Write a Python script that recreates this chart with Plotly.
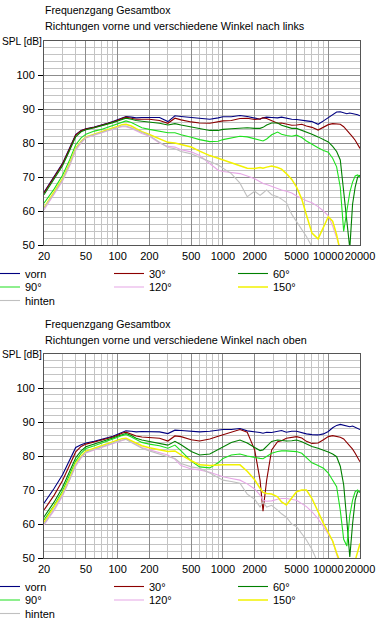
import math
import plotly.graph_objects as go

# ---------------- data ----------------
FREQ = [20, 25, 30, 35, 40, 45, 50,
        60, 70, 80, 90, 100,
        110, 120, 135, 150, 170, 200,
        250, 300, 350, 400, 500,
        600, 750, 900, 1000, 1200,
        1450, 1700, 2000, 2250, 2400,
        2600, 2900, 3300, 3600, 4000,
        4500, 5000, 5600, 6200, 7000,
        8000, 9000, 10000, 11000, 12000,
        13000, 14000, 15000, 16000, 17000,
        18000, 19000, 20000]

SERIES_NAMES = ["vorn", "30°", "60°", "90°", "120°", "150°", "hinten"]
SERIES_COLORS = ["#000080", "#8c0000", "#008000", "#1ee01e", "#e6a6e6", "#f2f200", "#c0c0c0"]

# --- chart 1: nach links ---
vorn_links = [65.5, 70.0, 74.0, 78.5, 82.5, 83.7, 84.2,
              84.7, 85.2, 85.8, 86.3, 86.8,
              87.4, 87.8, 87.6, 87.4, 87.5, 87.5,
              87.5, 86.3, 88.0, 87.8, 87.5,
              87.2, 87.0, 87.4, 87.7, 87.7,
              88.1, 87.8, 87.3, 87.0, 87.4,
              87.6, 87.5, 87.4, 87.6, 87.3,
              87.0, 86.9, 86.8, 86.5, 86.3,
              85.5, 86.5, 87.4, 88.4, 89.1,
              89.2, 89.0, 88.6, 88.8, 88.7,
              88.5, 88.3, 88.0]
w30_links = [65.3, 69.8, 73.8, 78.3, 82.3, 83.6, 84.1,
             84.6, 85.1, 85.7, 86.2, 86.7,
             87.3, 87.6, 87.3, 87.0, 87.0, 87.0,
             86.6, 85.8, 87.3, 86.8, 86.2,
             85.9, 85.8, 86.2, 86.5, 86.6,
             87.2, 87.3, 86.9, 87.1, 87.4,
             87.2, 86.6, 85.8, 85.9, 85.5,
             85.2, 85.3, 85.5, 85.0, 84.6,
             83.8, 84.6, 85.4, 85.7, 85.6,
             85.5, 84.8, 83.8, 82.8, 81.8,
             80.8, 79.6, 78.4]
w60_links = [64.8, 69.3, 73.3, 77.8, 81.8, 83.3, 83.9,
             84.5, 85.0, 85.5, 86.0, 86.5,
             87.0, 87.3, 87.0, 86.6, 86.4, 86.2,
             85.8, 85.3, 85.7, 85.3, 84.8,
             84.2, 83.7, 83.7, 84.0, 84.2,
             84.4, 84.5, 84.3, 84.3, 84.6,
             85.3, 85.9, 85.9, 85.2, 84.7,
             84.3, 84.3, 83.8, 83.2, 82.6,
             81.8, 81.0, 80.3, 79.0, 77.5,
             75.0, 65.5, 57.0, 49.0, 62.0,
             67.0, 70.0, 70.5]
w90_links = [62.3, 66.5, 70.5, 75.0, 79.5, 81.5, 82.6,
             83.5, 84.0, 84.6, 85.2, 85.7,
             86.2, 86.5, 86.0, 85.2, 84.5, 84.0,
             83.5, 83.0, 83.0, 82.4, 81.7,
             81.0, 80.4, 80.5, 81.0, 81.5,
             82.0, 81.8, 81.2, 80.8, 80.6,
             81.2, 82.4, 83.2, 82.6, 82.2,
             82.0, 82.3, 81.6, 80.6, 79.6,
             78.6, 77.8, 77.3, 75.5, 73.0,
             67.0, 54.0, 60.0, 65.5, 68.5,
             70.3, 70.6, 70.0]
w120_links = [60.3, 64.8, 68.8, 73.2, 77.8, 80.0, 81.5,
              82.3, 83.0, 83.6, 84.1, 84.5,
              84.8, 84.8, 84.3, 83.6, 82.8, 82.0,
              80.0, 79.0, 78.8, 78.0, 77.4,
              76.3, 74.0, 72.0, 71.6, 71.4,
              71.0, 70.3, 69.5, 68.6, 68.1,
              67.8, 67.2, 66.5, 66.2, 65.8,
              65.3, 64.4, 63.6, 63.0, 62.4,
              61.3, 60.0, 58.6, 55.6, 52.5,
              49.5, 46.0, 45.0, 45.0, 45.0,
              45.0, 45.0, 45.0]
w150_links = [61.0, 65.5, 69.5, 74.0, 78.5, 80.5, 81.8,
              82.6, 83.2, 83.8, 84.4, 84.9,
              85.4, 85.5, 85.0, 84.2, 83.3, 82.5,
              81.3, 80.2, 80.0, 79.6, 78.8,
              77.6, 76.3, 75.5, 75.0, 74.0,
              73.3, 72.6, 72.5, 72.8, 72.6,
              72.9, 73.2, 72.8, 72.3, 71.0,
              69.3, 67.0, 63.5, 58.8, 53.5,
              51.8, 55.5, 58.3, 57.0, 53.0,
              48.0, 44.0, 44.0, 44.0, 44.0,
              44.0, 44.0, 44.0]
hinten_links = [60.8, 65.2, 69.2, 73.6, 78.2, 80.3, 81.7,
                82.5, 83.1, 83.7, 84.2, 84.6,
                85.0, 85.0, 84.5, 83.8, 83.0, 82.2,
                80.2, 78.7, 78.3, 77.5, 76.8,
                75.8, 74.6, 73.5, 72.6, 71.0,
                68.2, 64.2, 65.8, 64.6, 65.3,
                66.2, 64.8, 64.2, 63.5, 62.5,
                59.0, 56.8, 54.5, 52.5, 49.5,
                46.0, 44.0, 44.0, 44.0, 44.0,
                44.0, 44.0, 44.0, 44.0, 44.0,
                44.0, 44.0, 44.0]

# --- chart 2: nach oben ---
vorn_oben = [66.1, 70.5, 74.5, 79.0, 82.5, 83.3, 83.8,
             84.3, 84.8, 85.3, 85.8, 86.4,
             87.0, 87.4, 87.3, 87.1, 87.2, 87.2,
             87.1, 86.6, 87.6, 87.5, 87.2,
             87.1, 87.3, 87.6, 87.8, 87.8,
             88.1, 87.4, 87.2, 86.9, 86.7,
             87.0, 86.9, 87.2, 87.5, 87.0,
             87.3, 87.3, 86.8, 86.5, 86.3,
             86.2, 86.5, 87.2, 88.3, 89.0,
             89.3, 89.0, 88.8, 88.6, 88.8,
             88.5, 88.2, 87.8]
w30_oben = [64.1, 68.5, 72.8, 77.2, 81.2, 82.8, 83.5,
            84.1, 84.6, 85.1, 85.6, 86.1,
            86.7, 87.0, 86.4, 85.9, 85.6, 85.5,
            85.2, 84.4, 85.9, 85.7, 84.8,
            84.4, 85.0, 85.8, 86.2, 87.0,
            87.8, 87.0, 81.8, 72.9, 63.8,
            72.9, 81.8, 84.2, 84.5, 85.2,
            85.5, 85.7, 85.3, 84.3, 83.7,
            83.8, 84.8, 85.7, 86.0, 85.8,
            85.5, 85.0, 84.0, 83.2, 82.0,
            80.8, 79.5, 78.3]
w60_oben = [62.1, 66.5, 70.8, 75.3, 79.5, 81.5, 82.7,
            83.5, 84.1, 84.7, 85.3, 85.8,
            86.3, 86.6, 86.0, 85.2, 84.7, 84.3,
            83.8, 83.2, 84.3, 83.3, 81.3,
            80.3, 80.6, 82.0, 82.8, 84.0,
            84.7, 83.8, 82.5, 81.6, 81.8,
            82.8, 84.3, 84.7, 84.6, 84.4,
            84.5, 84.7, 84.2, 83.5, 82.8,
            82.3, 81.8, 81.2, 80.6, 79.8,
            77.0, 71.5, 61.0, 50.3, 60.0,
            67.0, 69.5, 69.5]
w90_oben = [61.2, 65.5, 69.8, 74.2, 78.5, 80.8, 82.2,
            83.0, 83.7, 84.3, 84.9, 85.5,
            86.0, 86.3, 85.6, 84.8, 84.0, 83.5,
            83.0, 82.3, 83.2, 81.5, 78.5,
            76.8, 76.5, 78.0, 79.3, 80.3,
            80.6, 80.0, 79.5, 79.3, 79.2,
            79.8, 80.8, 81.3, 81.5, 81.5,
            81.3, 81.3, 80.8, 79.5, 78.0,
            77.2, 76.4, 75.0, 73.0, 71.0,
            64.0, 55.5, 53.5, 62.5, 67.0,
            69.5, 70.0, 69.2]
w120_oben = [59.7, 64.0, 68.2, 72.7, 77.0, 79.4, 80.9,
             81.8, 82.5, 83.2, 83.8, 84.3,
             84.7, 84.9, 84.2, 83.4, 82.5, 81.8,
             81.0, 80.3, 79.0, 77.2, 76.2,
             75.9, 75.2, 74.4, 73.9, 73.4,
             72.9, 71.8, 70.3, 68.5, 67.0,
             66.7, 66.8, 67.3, 67.5, 67.5,
             67.2, 67.0, 66.0, 65.1, 63.6,
             61.5, 59.2, 57.0, 55.0, 51.0,
             48.0, 45.0, 45.0, 45.0, 45.0,
             45.0, 45.0, 45.0]
w150_oben = [60.5, 65.0, 69.0, 73.5, 77.8, 80.0, 81.4,
             82.3, 83.0, 83.6, 84.2, 84.7,
             85.1, 85.2, 84.5, 83.7, 83.0, 82.4,
             81.8, 81.3, 81.5, 80.3, 78.6,
             77.4, 77.2, 77.4, 77.4, 77.4,
             77.4, 75.5, 73.0, 70.5, 69.3,
             69.0, 68.8, 68.0, 66.5, 65.6,
             67.5, 69.5, 70.0, 70.0, 67.5,
             63.5, 60.2, 57.5, 55.0, 51.5,
             48.0, 46.0, 45.0, 45.0, 46.5,
             49.0, 52.0, 54.3]
hinten_oben = [60.0, 64.4, 68.6, 73.0, 77.4, 79.7, 81.1,
               82.0, 82.7, 83.3, 83.8, 84.3,
               84.7, 84.9, 84.0, 83.2, 82.3, 81.5,
               80.5, 79.8, 79.3, 77.8, 76.8,
               76.4, 75.0, 73.8, 72.9, 72.5,
               72.0, 68.8, 67.3, 65.0, 66.5,
               65.0, 65.5, 64.1, 63.0, 62.0,
               60.0, 59.2, 57.0, 55.3, 52.5,
               48.5, 45.0, 44.0, 44.0, 44.0,
               44.0, 44.0, 44.0, 44.0, 44.0,
               44.0, 44.0, 44.0]

X_TICKS = [20, 50, 100, 200, 500, 1000, 2000, 5000, 10000, 20000]
X_TICKTEXT = ["20", "50", "100", "200", "500", "1000", "2000", "5000", "10000", "20000"]
X_MINOR = [30, 40, 60, 70, 80, 90, 300, 400, 600, 700, 800, 900,
           3000, 4000, 6000, 7000, 8000, 9000]
Y_TICKS = [50, 60, 70, 80, 90, 100]
Y_MINOR = [52, 54, 56, 58, 62, 64, 66, 68, 72, 74, 76, 78, 82, 84, 86, 88,
           92, 94, 96, 98, 102, 104, 106, 108]
Y_RANGE = [50, 110]

TITLE_MAIN = "Frequenzgang Gesamtbox"
SUBTITLE_1 = "Richtungen vorne und verschiedene Winkel nach links"
SUBTITLE_2 = "Richtungen vorne und verschiedene Winkel nach oben"
Y_LABEL = "SPL [dB]"

LINKS = [vorn_links, w30_links, w60_links, w90_links, w120_links, w150_links, hinten_links]
OBEN = [vorn_oben, w30_oben, w60_oben, w90_oben, w120_oben, w150_oben, hinten_oben]

# ---------------- layout helpers (pixels -> paper) ----------------
W, H = 378, 622
FONT = "Liberation Sans, Arial, sans-serif"


def fx(p):
    return p / W


def fy(p):
    return 1 - p / H


PLOT_L, PLOT_R = 44, 360
CHARTS = [
    dict(top=41, bottom=245, sub=SUBTITLE_1, data=LINKS, off=0),
    dict(top=354, bottom=558, sub=SUBTITLE_2, data=OBEN, off=313),
]
ROW_OF = [0, 0, 0, 1, 1, 1, 2]

fig = go.Figure()
layout = dict(
    width=W, height=H,
    margin=dict(l=0, r=0, t=0, b=0, autoexpand=False),
    paper_bgcolor="white", plot_bgcolor="white",
    font=dict(family=FONT, size=11, color="black"),
    showlegend=True,
    annotations=[],
)

for ci, ch in enumerate(CHARTS):
    xa = "xaxis" if ci == 0 else "xaxis%d" % (ci + 1)
    ya = "yaxis" if ci == 0 else "yaxis%d" % (ci + 1)
    xr = "x" if ci == 0 else "x%d" % (ci + 1)
    yr = "y" if ci == 0 else "y%d" % (ci + 1)
    layout[xa] = dict(
        type="log", domain=[fx(PLOT_L), fx(PLOT_R)], anchor=yr,
        range=[math.log10(20), math.log10(20000)],
        tickmode="array", tickvals=X_TICKS, ticktext=X_TICKTEXT, tickangle=0,
        showgrid=True, gridcolor="#8c8c8c", gridwidth=1,
        minor=dict(tickmode="array", tickvals=X_MINOR, showgrid=True,
                   gridcolor="#c4c4c4", gridwidth=1, ticks=""),
        ticks="", showline=True, linecolor="#555555", linewidth=1, mirror=True,
        zeroline=False, tickfont=dict(size=11, color="black"),
        ticklabelstandoff=1, fixedrange=True,
    )
    layout[ya] = dict(
        domain=[fy(ch["bottom"]), fy(ch["top"])], anchor=xr,
        range=Y_RANGE, tickmode="array", tickvals=Y_TICKS,
        showgrid=True, gridcolor="#8c8c8c", gridwidth=1,
        minor=dict(tickmode="array", tickvals=Y_MINOR, showgrid=True,
                   gridcolor="#c4c4c4", gridwidth=1, ticks=""),
        ticks="outside", ticklen=5, tickcolor="black",
        showline=True, linecolor="#555555", linewidth=1, mirror=True,
        zeroline=False, tickfont=dict(size=11, color="black"),
        ticklabelstandoff=1, fixedrange=True,
    )
    off = ch["off"]
    layout["annotations"] += [
        dict(text=TITLE_MAIN, xref="paper", yref="paper", x=fx(43), y=fy(10.5 + off),
             xanchor="left", yanchor="middle", showarrow=False, font=dict(size=10.6)),
        dict(text=ch["sub"], xref="paper", yref="paper", x=fx(43), y=fy(26.5 + off),
             xanchor="left", yanchor="middle", showarrow=False, font=dict(size=10.8)),
        dict(text=Y_LABEL, xref="paper", yref="paper", x=0, y=fy(41.5 + off),
             xanchor="left", yanchor="middle", showarrow=False, font=dict(size=10.2)),
    ]
    row_y = [273.5 + off, 287 + off, 300.5 + off]
    for r in range(3):
        lid = 3 * ci + r + 1
        lname = "legend" if lid == 1 else "legend%d" % lid
        layout[lname] = dict(
            orientation="h", x=0, xanchor="left", y=fy(row_y[r]), yanchor="middle",
            indentation=-15,
            entrywidth=94, entrywidthmode="pixels", bgcolor="rgba(0,0,0,0)",
            borderwidth=0, font=dict(size=11, color="black"), itemwidth=30,
            tracegroupgap=0, traceorder="normal", itemclick=False, itemdoubleclick=False,
        )
    for si, name in enumerate(SERIES_NAMES):
        lid = 3 * ci + ROW_OF[si] + 1
        lname = "legend" if lid == 1 else "legend%d" % lid
        fig.add_trace(go.Scatter(
            x=FREQ, y=ch["data"][si], mode="lines", name=name,
            line=dict(color=SERIES_COLORS[si], width=1.5 if si == 5 else 1.1),
            xaxis=xr, yaxis=yr, legend=lname, hoverinfo="skip",
        ))

fig.update_layout(**layout)
fig.write_html("out.html", config={"displayModeBar": False},
               post_script="document.body.style.margin='0';")
